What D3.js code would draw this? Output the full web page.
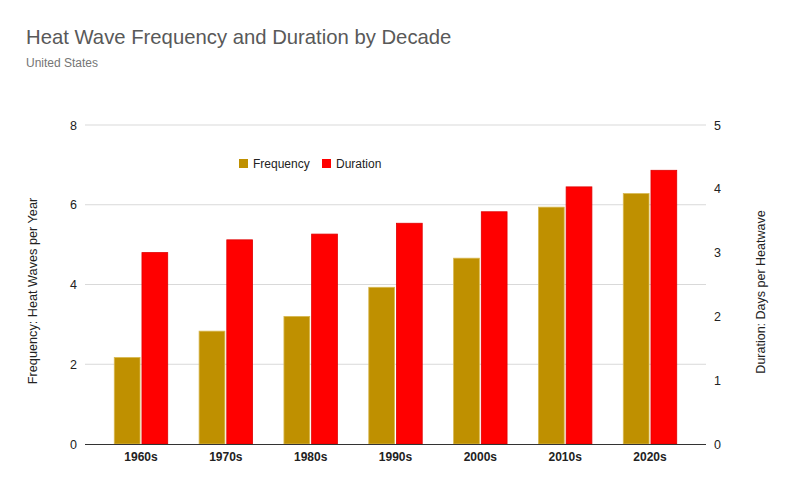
<!DOCTYPE html>
<html><head><meta charset="utf-8">
<script src="https://cdn.jsdelivr.net/npm/d3@7"></script>
<style>body{margin:0;background:#fff}svg{display:block;font-family:"Liberation Sans",Arial,sans-serif}</style>
</head><body><svg id="c" width="790" height="489"></svg>
<script>
const decades = ["1960s","1970s","1980s","1990s","2000s","2010s","2020s"];
const frequency = [2.17, 2.83, 3.2, 3.93, 4.66, 5.94, 6.28];
const duration = [3.0, 3.2, 3.29, 3.46, 3.64, 4.03, 4.29];
const leftTicks = [0,2,4,6,8];
const rightTicks = [0,1,2,3,4,5];
const series = ["Frequency","Duration"];
const colors = {Frequency:"#bf9000", Duration:"#ff0000"};
const strokes = {Frequency:"#d8b850", Duration:"#e00000"};

const svg = d3.select("#c");
const L = 85, R = 706, T = 125, B = 444;
const x = d3.scaleBand().domain(decades).range([L,R]).paddingInner(0.37).paddingOuter(0.345);
const xs = d3.scaleBand().domain(series).range([0,x.bandwidth()]).paddingInner(0.07);
const yL = d3.scaleLinear().domain([0,8]).range([B,T]);
const yR = d3.scaleLinear().domain([0,5]).range([B,T]);

svg.append("text").attr("x",26).attr("y",44).attr("font-size",20.3).attr("fill","#595959").text("Heat Wave Frequency and Duration by Decade");
svg.append("text").attr("x",26).attr("y",67).attr("font-size",12).attr("fill","#757575").text("United States");

// gridlines
svg.append("g").selectAll("line").data(leftTicks.filter(d=>d>0)).join("line")
  .attr("x1",L).attr("x2",R).attr("y1",d=>yL(d)).attr("y2",d=>yL(d))
  .attr("stroke","#d9d9d9").attr("stroke-width",1);

// left axis
const gl = svg.append("g").attr("transform",`translate(${L},0)`)
  .call(d3.axisLeft(yL).tickValues(leftTicks).tickSize(0).tickPadding(8).tickFormat(d3.format("d")));
gl.select(".domain").remove();
gl.selectAll("text").attr("font-size",12.5).attr("fill","#222").attr("font-family","Liberation Sans, Arial, sans-serif");

const gr = svg.append("g").attr("transform",`translate(${R},0)`)
  .call(d3.axisRight(yR).tickValues(rightTicks).tickSize(0).tickPadding(8).tickFormat(d3.format("d")));
gr.select(".domain").remove();
gr.selectAll("text").attr("font-size",12.5).attr("fill","#222").attr("font-family","Liberation Sans, Arial, sans-serif");

// bars
const groups = svg.append("g").selectAll("g").data(decades).join("g")
  .attr("transform",d=>`translate(${x(d)},0)`);
groups.append("rect").attr("x",xs("Frequency")).attr("width",xs.bandwidth())
  .attr("y",(d,i)=>yL(frequency[i])).attr("height",(d,i)=>B-yL(frequency[i]))
  .attr("fill",colors.Frequency).attr("stroke",strokes.Frequency).attr("stroke-width",0.8);
groups.append("rect").attr("x",xs("Duration")).attr("width",xs.bandwidth())
  .attr("y",(d,i)=>yR(duration[i])).attr("height",(d,i)=>B-yR(duration[i]))
  .attr("fill",colors.Duration).attr("stroke",strokes.Duration).attr("stroke-width",0.8);

// x axis
const gx = svg.append("g").attr("transform",`translate(0,${B})`)
  .call(d3.axisBottom(x).tickSize(0).tickPadding(8));
gx.select(".domain").attr("d",`M${L},0.5H${R}`).attr("stroke","#333").attr("stroke-width",1);
gx.selectAll("text").attr("font-size",12).attr("fill","#222").attr("font-weight","bold").attr("font-family","Liberation Sans, Arial, sans-serif");

// axis titles
svg.append("text").attr("transform",`translate(37,291) rotate(-90)`).attr("text-anchor","middle")
  .attr("font-size",12.7).attr("fill","#222").text("Frequency: Heat Waves per Year");
svg.append("text").attr("transform",`translate(765,292) rotate(-90)`).attr("text-anchor","middle")
  .attr("font-size",12.5).attr("fill","#222").text("Duration: Days per Heatwave");

// legend
const leg = svg.append("g");
const legX = [239, 322];
series.forEach((s,i)=>{
  leg.append("rect").attr("x",legX[i]).attr("y",159).attr("width",9).attr("height",9).attr("fill",colors[s]);
  leg.append("text").attr("x",legX[i]+14).attr("y",168).attr("font-size",12).attr("fill","#222").text(s);
});
</script></body></html>
